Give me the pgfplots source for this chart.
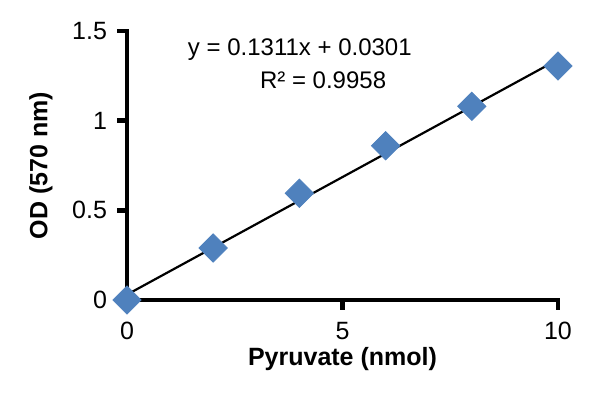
\documentclass[border=0pt]{standalone}
\usepackage{fontspec}
\setmainfont{Liberation Sans}
\usepackage{pgfplots}
\pgfplotsset{compat=1.18}
\definecolor{xlblue}{HTML}{4F81BD}
\begin{document}
\begin{tikzpicture}
\useasboundingbox (-63.5pt,-46.5pt) rectangle (236.5pt,150pt);
\begin{axis}[
  at={(0,0)}, anchor=south west,
  scale only axis, width=215.5pt, height=134.5pt,
  xmin=0, xmax=10, ymin=0, ymax=1.5,
  axis line style={draw=none},
  tick style={draw=none},
  xtick pos=bottom, ytick pos=left,
  xtick={0,5,10}, ytick={0,0.5,1,1.5},
  tick align=outside, major tick length=3.5pt,
  /pgf/number format/assume math mode=true,
  ticklabel style={font=\fontsize{12.5}{14}\selectfont},
  yticklabel style={xshift=-3pt},
  xticklabel style={yshift=-4pt},
  yticklabel style={/pgf/number format/fixed},
  xlabel={\textbf{Pyruvate (nmol)}},
  ylabel={\textbf{OD (570 nm)}},
  label style={font=\fontsize{12.5}{14}\selectfont},
  xlabel style={yshift=3pt},
  ylabel style={yshift=3pt},
  clip=false,
]
\draw[line width=2.2pt, line cap=rect, black] (axis cs:0,1.5) -- (axis cs:0,0) -- (axis cs:10,0);
\pgfplotsinvokeforeach{0,0.5,1,1.5}{ \draw[line width=2.2pt, black] (axis cs:0,#1) -- ++(-5pt,0); }
\pgfplotsinvokeforeach{5,10}{ \draw[line width=2.2pt, black] (axis cs:#1,0) -- ++(0,-5pt); }
\addplot[only marks, mark=square*, mark size=5pt, mark options={rotate=45, fill=xlblue, draw=xlblue}]
  coordinates {(0,0) (2,0.29) (4,0.595) (6,0.86) (8,1.08) (10,1.305)};
\addplot[black, line width=1.1pt] coordinates {(0,0.0301) (10,1.3411)};
\node[font=\fontsize{12}{14}\selectfont] at (axis cs:4.01,1.395) {y = 0.1311x + 0.0301};
\node[font=\fontsize{12}{14}\selectfont] at (axis cs:4.55,1.225) {R² = 0.9958};
\end{axis}
\end{tikzpicture}
\end{document}
